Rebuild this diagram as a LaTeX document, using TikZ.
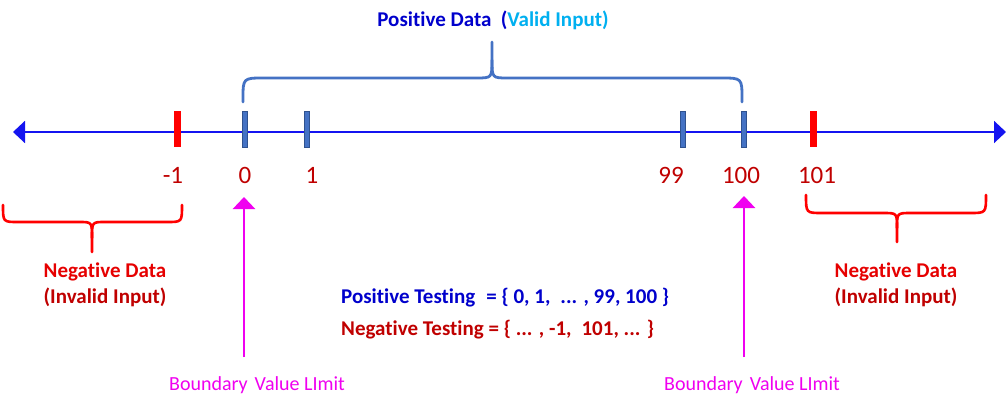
\documentclass[tikz,border=0pt]{standalone}
\usepackage{fontspec}
\setmainfont{Carlito}[Ligatures={NoCommon}]
\usetikzlibrary{arrows.meta}
\definecolor{axisblue}{RGB}{20,20,240}
\definecolor{steel}{RGB}{68,114,196}
\definecolor{steeldark}{RGB}{47,82,143}
\definecolor{tickred}{RGB}{255,0,0}
\definecolor{darkred}{RGB}{192,0,0}
\definecolor{brightred}{RGB}{230,0,0}
\definecolor{navy}{RGB}{0,0,204}
\definecolor{lightblue}{RGB}{0,176,240}
\definecolor{magentac}{RGB}{240,0,240}
\tikzset{
  numlabel/.style={anchor=base,text=darkred,font=\fontsize{25}{30}\selectfont,inner sep=0pt},
  boldlabel/.style={anchor=base,font=\bfseries\fontsize{21}{25}\selectfont,inner sep=0pt},
  setlabel/.style={anchor=base west,font=\bfseries\fontsize{21}{25}\selectfont,inner sep=0pt},
  bvlabel/.style={anchor=base,text=magentac,font=\fontsize{20}{24}\selectfont,inner sep=0pt},
  redtick/.style={draw=none,fill=tickred},
  bluetick/.style={draw=steeldark,line width=0.6pt,fill=steel},
  bracered/.style={draw=tickred,line width=2.6pt,line cap=round,line join=round},
  braceblue/.style={draw=steel,line width=2.8pt,line cap=round,line join=round},
  bvarrow/.style={draw=magentac,line width=2.6pt,-{Triangle[width=22pt,length=12pt]}},
}
\begin{document}
\begin{tikzpicture}[x=1pt,y=-1pt]
\useasboundingbox[fill=white] (0,0) rectangle (1007,410);

% number line
\coordinate (la) at (13,132);
\coordinate (ra) at (1006,132);
\draw[axisblue,line width=2pt,{Triangle[width=22pt,length=12pt]}-{Triangle[width=22pt,length=12pt]}] (la) -- (ra);

% ticks
\path[redtick] (173.5,111) rectangle (180.5,147);
\path[redtick] (809.5,111) rectangle (816.5,147);
\path[bluetick] (242.5,111) rectangle (247.5,147);
\path[bluetick] (304.5,111) rectangle (309.5,147);
\path[bluetick] (680.5,111) rectangle (685.5,147);
\path[bluetick] (741.5,111) rectangle (746.5,147);

% number labels
\node[numlabel] (nm1) at (173,183) {-1};
\node[numlabel] (n0) at (245,183) {0};
\node[numlabel] (n1) at (312,183) {1};
\node[numlabel] (n99) at (671,183) {99};
\node[numlabel] (n100) at (741,183) {100};
\node[numlabel] (n101) at (817,183) {101};

% top brace
\path[braceblue] (243,102) -- (243,99) .. controls (243,78) .. (264,78) -- (476,78)
  .. controls (492,78) .. (492,60) -- (492,42);
\path[braceblue] (492,60) .. controls (492,78) .. (508,78) -- (721,78)
  .. controls (742,78) .. (742,99) -- (742,102);
\node[boldlabel] (pos) at (493,26) {\textcolor{navy}{Positive Data}\hspace{0.45em}\textcolor{navy}{(}\textcolor{lightblue}{Valid Input)}};

% left red brace
\path[bracered] (3,205) .. controls (3,222) .. (18,222) -- (79,222)
  .. controls (92,222) .. (92,238) -- (92,252);
\path[bracered] (92,238) .. controls (92,222) .. (105,222) -- (167,222)
  .. controls (182,222) .. (182,205);
% right red brace
\path[bracered] (806,195) .. controls (806,213) .. (822,213) -- (883,213)
  .. controls (897,213) .. (897,228) -- (897,242);
\path[bracered] (897,228) .. controls (897,213) .. (911,213) -- (970,213)
  .. controls (986,213) .. (986,195);

% negative data labels
\node[boldlabel,text=brightred] (nd1) at (105,277) {Negative Data};
\node[boldlabel,text=darkred] (ii1) at (105,303) {(Invalid Input)};
\node[boldlabel,text=brightred] (nd2) at (896,277) {Negative Data};
\node[boldlabel,text=darkred] (ii2) at (896,303) {(Invalid Input)};

% testing sets
\node[setlabel,text=navy] (pt) at (341,303) {Positive Testing\hspace{0.3em} = \{ 0, 1,\hspace{0.25em} ... , 99, 100 \}};
\node[setlabel,text=darkred] (nt) at (341,335) {Negative Testing = \{ ... , -1,\hspace{0.25em} 101, ... \}};

% boundary value arrows
\node[bvlabel] (bv1) at (257,390) {Boundary\hspace{0.35em}Value LImit};
\node[bvlabel] (bv2) at (752,390) {Boundary\hspace{0.35em}Value LImit};
\coordinate (b1) at (244,357);
\coordinate (t1) at (244,197);
\coordinate (b2) at (744,357);
\coordinate (t2) at (744,196);
\draw[bvarrow] (b1) -- (t1);
\draw[bvarrow] (b2) -- (t2);
\end{tikzpicture}
\end{document}
